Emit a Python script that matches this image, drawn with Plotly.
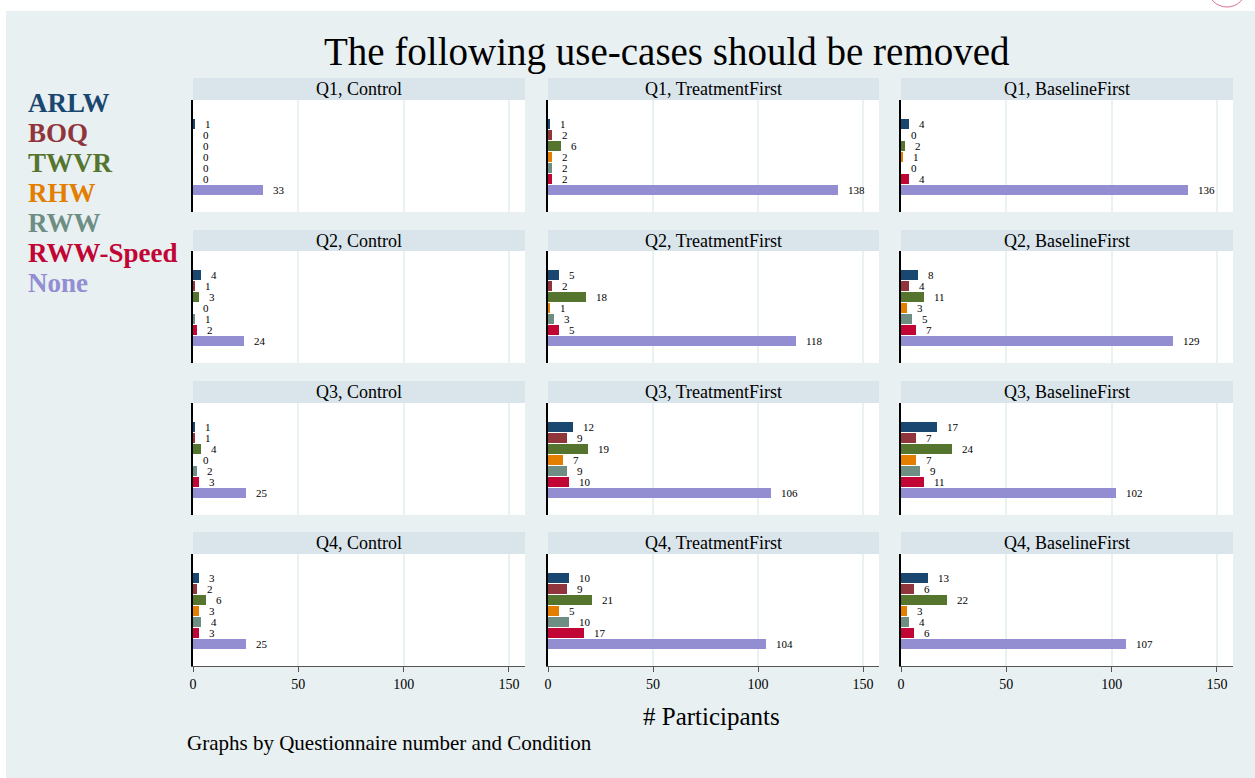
import plotly.graph_objects as go

# ---------------- data ----------------
categories = ["ARLW", "BOQ", "TWVR", "RHW", "RWW", "RWW-Speed", "None"]
questions = ["Q1", "Q2", "Q3", "Q4"]
conditions = ["Control", "TreatmentFirst", "BaselineFirst"]

q1_control = [1, 0, 0, 0, 0, 0, 33]
q1_treatment = [1, 2, 6, 2, 2, 2, 138]
q1_baseline = [4, 0, 2, 1, 0, 4, 136]
q2_control = [4, 1, 3, 0, 1, 2, 24]
q2_treatment = [5, 2, 18, 1, 3, 5, 118]
q2_baseline = [8, 4, 11, 3, 5, 7, 129]
q3_control = [1, 1, 4, 0, 2, 3, 25]
q3_treatment = [12, 9, 19, 7, 9, 10, 106]
q3_baseline = [17, 7, 24, 7, 9, 11, 102]
q4_control = [3, 2, 6, 3, 4, 3, 25]
q4_treatment = [10, 9, 21, 5, 10, 17, 104]
q4_baseline = [13, 6, 22, 3, 4, 6, 107]

panel_values = [
    [q1_control, q1_treatment, q1_baseline],
    [q2_control, q2_treatment, q2_baseline],
    [q3_control, q3_treatment, q3_baseline],
    [q4_control, q4_treatment, q4_baseline],
]
tick_values = [0, 50, 100, 150]
tick_labels = ["0", "50", "100", "150"]

# ---------------- style ----------------
colors = ["#1a476f", "#90353b", "#55752f", "#e37e00", "#6e8e84", "#c10534", "#938dd2"]
BG = "#e8f0f2"
STRIP = "#d9e5eb"
GRID = "#eaf1f3"
FONT = "Liberation Serif"

W, H = 1255, 778
col_px = [(193, 525), (548, 879), (901, 1233)]
row_px = [(78, 100, 212), (230, 251, 363), (381, 403, 515), (532, 554, 666)]


def px_x(x):
    return x / W


def px_y(y):
    return 1 - y / H


fig = go.Figure()
layout = dict(
    width=W, height=H, autosize=False,
    margin=dict(l=0, r=0, t=0, b=0, pad=0, autoexpand=False),
    paper_bgcolor=BG, plot_bgcolor="white",
    showlegend=False,
    font=dict(family=FONT, color="black"),
    bargap=0,
)
shapes = []
annotations = []

# white border strip at top and left
shapes.append(dict(type="rect", xref="paper", yref="paper", x0=0, x1=1,
                   y0=px_y(11), y1=1, fillcolor="white", line_width=0, layer="below"))
shapes.append(dict(type="rect", xref="paper", yref="paper", x0=0, x1=px_x(6),
                   y0=0, y1=1, fillcolor="white", line_width=0, layer="below"))
shapes.append(dict(type="circle", xref="paper", yref="paper", x0=px_x(1208), x1=px_x(1246),
                   y0=px_y(7), y1=px_y(-30), line=dict(color="#d9708f", width=1),
                   fillcolor="rgba(0,0,0,0)"))

idx = 0
for r, q in enumerate(questions):
    st, pt, pb = row_px[r]
    for c, cond in enumerate(conditions):
        idx += 1
        sfx = "" if idx == 1 else str(idx)
        xl, xr = col_px[c]
        vals = panel_values[r][c]
        fig.add_trace(go.Bar(
            x=vals, y=categories, orientation="h",
            marker=dict(color=colors, line=dict(width=0)),
            width=0.88, xaxis="x" + sfx, yaxis="y" + sfx,
            hoverinfo="skip",
        ))
        bottom = (r == len(questions) - 1)
        layout["xaxis" + sfx] = dict(
            domain=[px_x(xl), px_x(xr)], anchor="y" + sfx,
            range=[0, 157.6], tickvals=tick_values, ticktext=tick_labels,
            showgrid=True, gridcolor=GRID, gridwidth=1.5, zeroline=False,
            showticklabels=bottom, ticks="outside" if bottom else "",
            ticklen=5, tickcolor="#555555", tickwidth=1,
            showline=bottom, linecolor="#555555", linewidth=1,
            tickfont=dict(family=FONT, size=14, color="black"),
            automargin=False, fixedrange=True,
        )
        layout["yaxis" + sfx] = dict(
            domain=[px_y(pb), px_y(pt)], anchor="x" + sfx,
            type="category", categoryarray=categories[::-1], categoryorder="array",
            range=[-2.0, 8.15], showticklabels=False, ticks="", showgrid=False,
            showline=True, linecolor="black", linewidth=1.5, zeroline=False,
            automargin=False, fixedrange=True,
        )
        # strip header
        shapes.append(dict(type="rect", xref="paper", yref="paper",
                           x0=px_x(xl), x1=px_x(xr), y0=px_y(pt), y1=px_y(st),
                           fillcolor=STRIP, line_width=0))
        annotations.append(dict(text=f"{q}, {cond}", xref="paper", yref="paper",
                                x=px_x((xl + xr) / 2), y=px_y((st + pt) / 2),
                                xanchor="center", yanchor="middle", showarrow=False,
                                font=dict(family=FONT, size=18, color="black")))
        # value labels
        for cat, v in zip(categories, vals):
            annotations.append(dict(text=str(v), x=v, y=cat, xref="x" + sfx, yref="y" + sfx,
                                    xanchor="left", yanchor="middle", xshift=8,
                                    showarrow=False,
                                    font=dict(family=FONT, size=11, color="black")))

# legend (coloured text labels)
for i, (cat, col) in enumerate(zip(categories, colors)):
    annotations.append(dict(text=f"<b>{cat}</b>", xref="paper", yref="paper",
                            x=px_x(26), y=px_y(103 + 30 * i), xanchor="left", yanchor="middle",
                            showarrow=False, font=dict(family=FONT, size=27, color=col)))

# title, axis title, note
annotations.append(dict(text="The following use-cases should be removed", xref="paper", yref="paper",
                        x=px_x(667), y=px_y(52), xanchor="center", yanchor="middle",
                        showarrow=False, font=dict(family=FONT, size=39, color="black")))
annotations.append(dict(text="# Participants", xref="paper", yref="paper",
                        x=px_x(711), y=px_y(716), xanchor="center", yanchor="middle",
                        showarrow=False, font=dict(family=FONT, size=25, color="black")))
annotations.append(dict(text="Graphs by Questionnaire number and Condition", xref="paper", yref="paper",
                        x=px_x(185), y=px_y(743), xanchor="left", yanchor="middle",
                        showarrow=False, font=dict(family=FONT, size=21, color="black")))

layout["shapes"] = shapes
layout["annotations"] = annotations
fig.update_layout(**layout)
fig.write_html("out.html")
